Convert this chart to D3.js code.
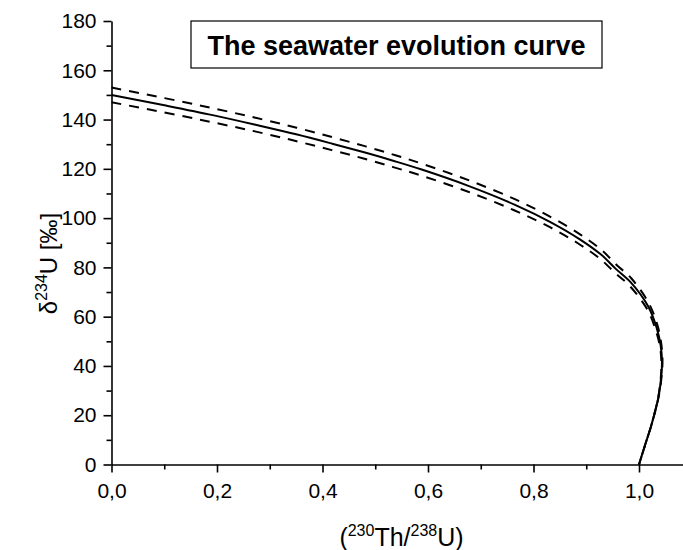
<!DOCTYPE html>
<html>
<head>
<meta charset="utf-8">
<script src="https://cdnjs.cloudflare.com/ajax/libs/d3/7.8.5/d3.min.js"></script>
<style>
body { margin: 0; background: #fff; }
svg text { font-family: "Liberation Sans", Arial, sans-serif; fill: #000; }
</style>
</head>
<body>
<div id="chart"></div>
<script>
// Seawater evolution curve, (230Th/238U) on x, d234U on y
// middle (solid) curve
var thU  = [0, 0.1004, 0.1918, 0.2747, 0.3501, 0.4185, 0.4806, 0.5370, 0.5881, 0.6765, 0.7650, 0.8339, 0.8872, 0.9280, 0.9560, 0.9840, 1.0170, 1.0330, 1.0410, 1.0435, 1.0425, 1.0370, 1.0230, 1.0130, 1.0031, 1.0008, 1.0];
var d234 = [150, 145.8, 141.8, 137.8, 134.0, 130.2, 126.6, 123.1, 119.7, 113.1, 105.4, 98.2, 91.5, 85.2, 79.4, 74.0, 64.3, 55.8, 48.4, 42.1, 36.5, 27.5, 15.6, 8.9, 2.2, 0.5, 0];

// upper dashed curve
var thUHi  = [0, 0.1007, 0.1922, 0.2754, 0.3509, 0.4195, 0.4818, 0.5383, 0.5895, 0.6780, 0.7667, 0.8356, 0.8890, 0.9297, 0.9576, 0.9857, 1.0185, 1.0345, 1.0420, 1.0445, 1.0435, 1.0378, 1.0235, 1.0133, 1.0032, 1.0];
var d234Hi = [153, 148.7, 144.6, 140.6, 136.7, 132.8, 129.1, 125.5, 122.0, 115.3, 107.5, 100.1, 93.3, 86.9, 81.0, 75.5, 65.5, 56.9, 49.4, 42.9, 37.2, 28.1, 16.0, 9.1, 2.2, 0];

// lower dashed curve
var thULo  = [0, 0.1001, 0.1913, 0.2740, 0.3492, 0.4175, 0.4795, 0.5357, 0.5867, 0.6749, 0.7633, 0.8321, 0.8855, 0.9262, 0.9544, 0.9823, 1.0155, 1.0315, 1.0400, 1.0425, 1.0415, 1.0362, 1.0226, 1.0127, 1.0031, 1.0];
var d234Lo = [147, 142.9, 138.9, 135.1, 131.3, 127.6, 124.1, 120.6, 117.3, 110.8, 103.2, 96.2, 89.6, 83.5, 77.8, 72.5, 63.0, 54.7, 47.5, 41.2, 35.8, 27.0, 15.3, 8.7, 2.1, 0];

// ticks
var xMajor = [0, 0.2, 0.4, 0.6, 0.8, 1.0];
var xMinor = [0.1, 0.3, 0.5, 0.7, 0.9, 1.1];
var yMajor = [0, 20, 40, 60, 80, 100, 120, 140, 160, 180];
var yMinor = [10, 30, 50, 70, 90, 110, 130, 150, 170];

var titleText = "The seawater evolution curve";

var width = 683, height = 550;

var svg = d3.select("#chart").append("svg")
    .attr("width", width)
    .attr("height", height);

// scales, x axis runs off the right edge of the picture
var x = d3.scaleLinear().domain([0, 1.1]).range([111.5, 111.5 + 1.1 * 527.5]);
var y = d3.scaleLinear().domain([0, 180]).range([464.5, 21]);

var comma = function(d) { return d3.format(".1f")(d).replace(".", ","); };

// minor ticks first, then the main axes on top
svg.append("g")
    .attr("transform", "translate(0," + y(0) + ")")
    .call(d3.axisBottom(x).tickValues(xMinor).tickSize(5).tickFormat(""))
    .call(function(g) { g.select(".domain").remove(); });

svg.append("g")
    .attr("transform", "translate(" + x(0) + ",0)")
    .call(d3.axisLeft(y).tickValues(yMinor).tickSize(5).tickFormat(""))
    .call(function(g) { g.select(".domain").remove(); });

var xAxis = svg.append("g")
    .attr("transform", "translate(0," + y(0) + ")")
    .call(d3.axisBottom(x).tickValues(xMajor).tickSize(8).tickPadding(11).tickFormat(comma).tickSizeOuter(0));

var yAxis = svg.append("g")
    .attr("transform", "translate(" + x(0) + ",0)")
    .call(d3.axisLeft(y).tickValues(yMajor).tickSize(8).tickPadding(7).tickSizeOuter(0));

svg.selectAll(".tick line, .domain")
    .attr("stroke", "#000")
    .attr("stroke-width", 1.6);

svg.selectAll(".tick text")
    .attr("font-size", 21)
    .attr("fill", "#000");

// curves
var line = d3.line()
    .x(function(d) { return x(d[0]); })
    .y(function(d) { return y(d[1]); })
    .curve(d3.curveCatmullRom);

function draw(xs, ys, dash) {
    var pts = xs.map(function(v, i) { return [v, ys[i]]; });
    svg.append("path")
        .datum(pts)
        .attr("d", line)
        .attr("fill", "none")
        .attr("stroke", "#000")
        .attr("stroke-width", 2)
        .attr("stroke-dasharray", dash);
}

draw(thUHi, d234Hi, "10,8");
draw(thULo, d234Lo, "10,8");
draw(thU, d234, null);

// title box
svg.append("rect")
    .attr("x", 191)
    .attr("y", 21)
    .attr("width", 411)
    .attr("height", 47)
    .attr("fill", "#fff")
    .attr("stroke", "#000")
    .attr("stroke-width", 1.2);

svg.append("text")
    .attr("x", 396.5)
    .attr("y", 55)
    .attr("text-anchor", "middle")
    .attr("font-size", 27)
    .attr("font-weight", "bold")
    .text(titleText);

// x axis title: (230Th/238U)
var xt = svg.append("text")
    .attr("x", 401.5)
    .attr("y", 546)
    .attr("text-anchor", "middle")
    .attr("font-size", 25);
xt.append("tspan").text("(");
xt.append("tspan").attr("font-size", 16).attr("dy", -10).text("230");
xt.append("tspan").attr("dy", 10).text("Th/");
xt.append("tspan").attr("font-size", 16).attr("dy", -10).text("238");
xt.append("tspan").attr("dy", 10).text("U)");

// y axis title: d234U [permil]
var yt = svg.append("text")
    .attr("transform", "translate(57,263.5) rotate(-90)")
    .attr("text-anchor", "middle")
    .attr("font-size", 24);
yt.append("tspan").text("\u03b4");
yt.append("tspan").attr("font-size", 16).attr("dy", -10).text("234");
yt.append("tspan").attr("dy", 10).text("U [\u2030]");
</script>
</body>
</html>
